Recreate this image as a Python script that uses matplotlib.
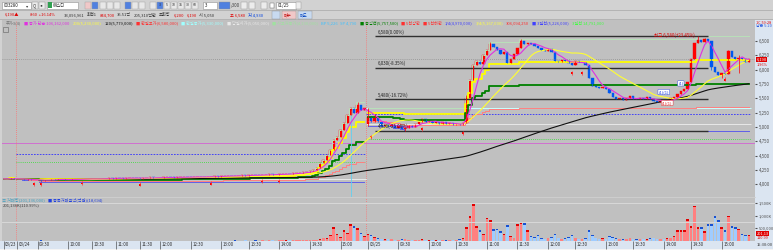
import matplotlib
matplotlib.use('Agg')
import matplotlib.pyplot as plt
from matplotlib.patches import Rectangle
import matplotlib.transforms as mtrans
import numpy as np
import pandas as pd

plt.rcParams['font.family'] = ['Noto Sans CJK KR', 'DejaVu Sans']

# --- data -------------------------------------------------------------
day_open = [4100, 4100, 5050]
day_len = [4, 103, 113]

close_d0 = [4095, 4090, 4105, 4100]
close_d1 = [
    4090, 4085, 4080, 4085, 4075, 4080, 4070, 4060, 4075, 4080,
    4085, 4080, 4090, 4085, 4080, 4075, 4085, 4090, 4095, 4090,
    4085, 4095, 4100, 4095, 4090, 4095,
    4100, 4105, 4100, 4110, 4105, 4100, 4110, 4115, 4110, 4105,
    4100, 4110, 4115, 4120, 4115, 4110, 4115, 4120, 4125, 4120,
    4115, 4120, 4125, 4130, 4125, 4120, 4130, 4135, 4130, 4125,
    4130, 4135, 4140, 4135, 4140, 4145, 4150, 4145, 4140, 4150,
    4155, 4150, 4160, 4165, 4160, 4155, 4160, 4170, 4175, 4170,
    4165, 4175, 4180, 4185, 4180, 4190, 4195, 4200, 4210, 4220,
    4232, 4250, 4284, 4371, 4424, 4511, 4598, 4773, 4825, 4947,
    5069, 5209, 5331, 5243, 5383, 5296, 5330,
]
close_d2 = [
    5180, 5080, 5150, 5080, 5020, 5060, 5010, 5040, 4990, 5020,
    4960, 4990, 5030, 5000, 5050, 5080, 5140, 5090, 5110, 5070,
    5090, 5060, 5080, 5050, 5070, 5040, 5060, 5030, 5070, 5500,
    5820, 6080, 6150, 6100, 6250, 6340, 6450, 6400, 6350, 6280,
    6310, 6120, 6180, 6280, 6380, 6500, 6450, 6470, 6440, 6420,
    6380, 6350, 6330, 6360, 6310, 6160, 6140, 6170, 6150, 6120,
    6090, 6150, 6130, 6140, 6080, 5850, 5720, 5700, 5680, 5700,
    5660, 5600, 5520, 5490, 5510, 5470, 5500, 5540, 5490, 5480,
    5510, 5490, 5520, 5480, 5450, 5430, 5460, 5420, 5470, 5500,
    5530, 5580, 5620, 5660, 5780, 6180, 6460, 6520, 6480, 6540,
    6500, 6050, 5960, 5900, 5950, 5930, 6320, 6230, 6180, 6210,
    6180, 6140, 6190,
]
wick_hi = {104: 5430, 107: 5330, 109: 5220, 136: 5550, 143: 6490,
           152: 6540, 204: 6580, 206: 6560, 213: 6350, 216: 6260}
wick_lo = {11: 4040, 107: 5020, 118: 4930, 208: 6000, 211: 5850, 216: 5950}

vol_d0 = [10, 6, 8, 12]
vol_d1 = [
    8, 12, 5, 10, 15, 6, 9, 20, 7, 11, 5, 8, 14, 6, 10, 9, 5, 12, 7, 8,
    6, 10, 13, 5, 9, 7, 11, 6, 8, 15, 5, 9, 7, 12, 6, 10, 8, 5, 14, 9,
    6, 11, 7, 8, 13, 5, 10, 9, 6, 12, 7, 8, 15, 6, 9, 11, 5, 10, 8, 14,
    12, 18, 9, 15, 20, 11, 16, 25, 13, 18, 22, 15, 28, 19, 24, 30, 17, 26, 35, 21,
    30, 25, 40, 28, 35, 45,
    30, 25, 40, 60, 120, 110, 250, 540, 270, 160, 420, 330, 650, 600, 500, 330, 200,
]
vol_d2 = [
    270, 230, 150, 100, 80, 60, 90, 70, 50, 40,
    60, 70, 40, 30, 50, 40, 60, 30, 20, 30,
    20, 40, 30, 20, 30, 40, 30, 60, 100, 540,
    975, 1460, 580, 420, 270, 920, 810, 460, 490, 385,
    270, 620, 190, 120, 650, 740, 690, 420, 190, 150,
    230, 110, 90, 130, 160, 270, 120, 80, 100, 150,
    230, 120, 90, 70, 110, 420, 240, 130, 90, 110,
    80, 180, 150, 100, 70, 60, 90, 120, 80, 60,
    70, 90, 60, 100, 120, 80, 70, 90, 110, 130,
    180, 420, 440, 420, 860, 600, 1390, 560, 550, 380,
    650, 650, 975, 810, 560, 420, 1000, 600, 560, 490,
    270, 240, 250,
]

# per-day reference levels (prev close, pivot dashed, pivot dotted)
prev_close_lv = [None, 4100, 5330]
pivot_blue = [None, 4527, 5226]
pivot_green = [None, 4387, 4790]
pink_level = 4720
last_price = 6190

fib_levels = [6580, 6030, 5480, 4930]
fib_labels = ['6,580(0.00%)', '6,030(-8.35%)', '5,480(-16.72%)', '4,930(-25.08%)']
fib_span = (109, 207)

sig_idx = [9, 11, 23, 40, 61, 76, 81, 108, 123, 135, 167, 170, 212]
sig_px = [4000, 4000, 4020, 3990, 4010, 4040, 4050, 4820, 4960, 4890, 5940, 5940, 5820]

tick_idx = [0, 4, 10, 19, 26, 33, 40, 46, 55, 64, 72, 81, 90, 99, 107,
            116, 125, 133, 142, 151, 160, 168, 177, 185, 194, 202, 211]
tick_lab = ['03/23', '03/24', '09:30', '10:00', '10:30', '11:00', '11:30', '12:00',
            '12:30', '13:00', '13:30', '14:00', '14:30', '15:00', '03/25',
            '09:30', '10:00', '10:30', '11:00', '11:30', '12:00', '12:30',
            '13:00', '13:30', '14:00', '14:30', '15:00']

price_ticks = [4000, 4250, 4500, 4750, 5000, 5250, 5500, 5750, 6000, 6250, 6500]
vol_ticks = [500, 1000, 1500]
vol_tick_lab = ['500,000', '1,000K', '1,500K']

quote_row = [(5, '6,190▲', '#e00000'), (30, '860  +16.14%', '#e00000'),
             (64, '33,096,961', '#303030'), (81, '회전1', '#303030'),
             (92, '844,700', '#e00000'), (104, '35.51억', '#303030'),
             (118, '205,310백만', '#303030'), (138, '조회량', '#303030'),
             (157, '6,200', '#e00000'), (178, '6,190', '#e00000'),
             (193, '시 5,050', '#303030'), (230, '고 6,580', '#e00000'),
             (247, '저 4,930', '#0040e0')]

legend = [(6, '주가3(4)', '#707070'), (23, '■ 종가 단순 106,162,000', '#e030e0'),
          (65, '200(5,230,000)', '#ffff40'), (90, '120(5,779,000)', '#101010'),
          (120, '■ 한일고가(6,580,000)', '#ff3030'), (159, '■ 한일종가(5,330,000)', '#a0ffff'),
          (193, '■ 당일시가(5,050,000)', '#e8e8e8'), (235, '■ 시고저종가(4,130,000)', '#a0e0a0'),
          (292, 'BP 5,226', '#40c0ff'), (312, 'SP 4,790', '#40c0ff'),
          (333, '■ 중심선(5,757,500)', '#008000'), (370, '■ 5선상한', '#ff3030'),
          (390, '■ 5선하한', '#ff3030'), (407, '1/4(4,970,000)', '#4040ff'),
          (430, '3/4(5,167,000)', '#ffff40'), (453, '306,094,250', '#ff3030'),
          (477, '■ 3일선(5,226,000)', '#4040ff'), (506, '3일선 14,791,000', '#40ff40')]

# --- build frame --------------------------------------------------------
closes = close_d0 + close_d1 + close_d2
vols = vol_d0 + vol_d1 + vol_d2
day = np.repeat([0, 1, 2], day_len)
df = pd.DataFrame({'close': closes, 'vol': vols, 'day': day})
df['open'] = df['close'].shift(1)
starts = np.cumsum([0] + day_len[:-1])
for d, s in enumerate(starts):
    df.loc[s, 'open'] = day_open[d]
df['high'] = df[['open', 'close']].max(axis=1)
df['low'] = df[['open', 'close']].min(axis=1)
for k, v in wick_hi.items():
    df.loc[k, 'high'] = v
for k, v in wick_lo.items():
    df.loc[k, 'low'] = v
df['up'] = df['close'] >= df['open']
df['ma5'] = df['close'].rolling(5, min_periods=1).mean()
df['ma20'] = df['close'].rolling(20, min_periods=1).mean()
df['ma_long'] = df['close'].rolling(112, min_periods=1).mean()
df['dh'] = df.groupby('day')['high'].cummax()
df['dl'] = df.groupby('day')['low'].cummin()
df['q50'] = (df['dh'] + df['dl']) / 2
df['q75'] = df['dl'] + 0.75 * (df['dh'] - df['dl'])
df['q25'] = df['dl'] + 0.25 * (df['dh'] - df['dl'])
idx = np.arange(len(df))

# --- figure -------------------------------------------------------------
W, H = 773, 250
fig = plt.figure(figsize=(W / 100, H / 100), dpi=100)
fig.patch.set_facecolor('#d2d2d2')
renderer = fig.canvas.get_renderer()


def box(x0, y0, x1, y1):
    return [x0 / W, 1 - y1 / H, (x1 - x0) / W, (y1 - y0) / H]


def ftext(x, y, s, **kw):
    kw.setdefault('fontsize', 3.2)
    kw.setdefault('va', 'center')
    return fig.text(x / W, 1 - y / H, s, **kw)


def flow(items, y, size, gap=2.5):
    # place texts at their own x, but never on top of the previous one
    end = 0
    for x, s, c in items:
        t = ftext(max(x, end + gap), y, s, color=c, fontsize=size)
        end = t.get_window_extent(renderer).x1


def frect(x0, y0, x1, y1, **kw):
    kw.setdefault('zorder', -1)
    fig.patches.append(Rectangle((x0 / W, 1 - y1 / H), (x1 - x0) / W, (y1 - y0) / H,
                                 transform=fig.transFigure, figure=fig, **kw))


# header rows
frect(0, 10, W, 10.8, facecolor='#b4b4b4', edgecolor='none')
frect(0, 19, W, 19.6, facecolor='#b4b4b4', edgecolor='none')
frect(2, 2, 31, 8.5, facecolor='white', edgecolor='#909090', lw=0.4)
ftext(4, 5.3, '003280', color='#202020')
ftext(26, 5.3, '▾', color='#404040')
frect(32, 2, 38, 8.5, facecolor='#ececec', edgecolor='#909090', lw=0.3)
ftext(33, 5.3, 'Q', color='#404040')
frect(39, 2, 45, 8.5, facecolor='#ececec', edgecolor='#909090', lw=0.3)
ftext(39.5, 5.3, '◂▸', color='#404040', fontsize=2.8)
frect(47, 2, 78, 8.5, facecolor='white', edgecolor='#909090', lw=0.4)
frect(47.5, 2.5, 52, 8, facecolor='#30a050', edgecolor='none')
ftext(53, 5.3, '에스디', color='#202020')
toolbar = [(85, '#f0c8c8'), (92, '#5080e0'), (100, '#e8e8e8'), (107, '#e8e8e8'),
           (114, '#e8e8e8'), (125, '#5080e0'), (132, '#e8e8e8'), (139, '#e8e8e8'),
           (150, '#e8e8e8'), (157, '#5080e0'), (164, '#e8e8e8'), (171, '#e8e8e8'),
           (178, '#e8e8e8'), (185, '#e8e8e8'), (192, '#e8e8e8')]
for x0, fc in toolbar:
    frect(x0, 2, x0 + 6, 8.5, facecolor=fc, edgecolor='#a0a0a0', lw=0.3)
for x0, s in [(158.8, '3'), (165.8, '5'), (171.8, '10'), (178.8, '15'), (185.8, '30'), (192.8, '60')]:
    ftext(x0, 5.3, s, color='#303030', fontsize=2.6)
frect(203, 2, 217, 8.5, facecolor='white', edgecolor='#909090', lw=0.4)
ftext(205, 5.3, '3', color='#202020')
frect(219, 2, 230, 8.5, facecolor='#5080e0', edgecolor='#909090', lw=0.3)
ftext(231, 5.3, '/300', color='#404040')
frect(241, 2, 247, 8.5, facecolor='#ececec', edgecolor='#909090', lw=0.3)
frect(249, 2, 255, 8.5, facecolor='#ececec', edgecolor='#909090', lw=0.3)
frect(261, 2, 267, 8.5, facecolor='#ececec', edgecolor='#909090', lw=0.3)
frect(270, 3, 274, 7.5, facecolor='white', edgecolor='#606060', lw=0.3)
frect(276, 2, 296, 8.5, facecolor='white', edgecolor='#909090', lw=0.4)
ftext(278, 5.3, '01/25', color='#202020')
frect(296, 2, 301, 8.5, facecolor='#ececec', edgecolor='#909090', lw=0.3)

flow(quote_row, 15, 3.0)
frect(272, 11.5, 280, 18.5, facecolor='#c8daf0', edgecolor='#909090', lw=0.3)
frect(282, 11.5, 296, 18.5, facecolor='#f0c8c8', edgecolor='#909090', lw=0.3)
ftext(284, 15, '매수', color='#c00000', fontsize=3.0)
frect(298, 11.5, 312, 18.5, facecolor='#c8daf0', edgecolor='#909090', lw=0.3)
ftext(300, 15, '매도', color='#0040c0', fontsize=3.0)

# right axis & time strip backgrounds
frect(755, 19.6, W, 241, facecolor='#dbe5f1', edgecolor='none')
frect(0, 241, W, 249, facecolor='#dbe5f1', edgecolor='none')
frect(0, 249, W, H, facecolor='#f4f4f4', edgecolor='none')

ax = fig.add_axes(box(2, 19.6, 755, 196.5))
axv = fig.add_axes(box(2, 196.5, 755, 241), sharex=ax)
for a in (ax, axv):
    a.set_facecolor('#c0c0c0')
    for s in a.spines.values():
        s.set_visible(False)
axv.spines['top'].set_visible(True)
axv.spines['top'].set_color('#d0d0d0')
axv.spines['top'].set_linewidth(0.6)

ax.set_xlim(-0.5, 220.8)
ax.set_ylim(3787, 6874)
axv.set_ylim(0, 1752)

# horizontal references
ax.axhline(last_price, color='#909090', lw=0.6, ls=(0, (1, 1.5)))
ax.axhline(pink_level, color='#d070d0', lw=0.7)
for d in (1, 2):
    s, e = starts[d] - 0.5, starts[d] + day_len[d] - 0.5
    ax.hlines(prev_close_lv[d], s, e, color='#c8ffff', lw=0.7)
    ax.hlines(day_open[d], s, e, color='#e8e8e8', lw=0.7)
    ax.hlines(pivot_blue[d], s, e, color='#3030ff', lw=0.6, ls=(0, (2, 1.5)))
    ax.hlines(pivot_green[d], s, e, color='#30e030', lw=0.6, ls=(0, (1, 1.5)))

# day step lines
for d in range(3):
    m = df['day'] == d
    xs = idx[m]
    ax.step(xs, df.loc[m, 'dh'], where='mid', color='#b8e0b8', lw=0.7)
    ax.step(xs, df.loc[m, 'dl'], where='mid', color='#6060e8', lw=0.7)
    ax.step(xs, df.loc[m, 'q25'], where='mid', color='#ff8080', lw=0.7)
    ax.step(xs, df.loc[m, 'q75'], where='mid', color='#ffff00', lw=1.3)
    ax.step(xs, df.loc[m, 'q50'], where='mid', color='#008000', lw=1.3)

# fibonacci levels
for lv, lab in zip(fib_levels, fib_labels):
    ax.hlines(lv, fib_span[0], fib_span[1], color='#303030', lw=1.0)
    ax.text(fib_span[0] + 1, lv + 30, lab, fontsize=3.2, color='#202020', va='bottom')
ax.text(203, 6600, '최고 6,580(+23.45%)', fontsize=3.2, color='#e00000', ha='right', va='center')

# day separators
for a in (ax, axv):
    for s in starts[1:]:
        a.axvline(s - 0.5, color='#ff7070', lw=0.6, ls=(0, (1, 1.5)))
ax.vlines(102, 3787, 5300, color='#60d0f0', lw=0.6)

# moving averages
ax.plot(idx, df['ma_long'], color='#101010', lw=0.8)
ax.plot(idx, df['ma20'], color='#ffff30', lw=0.8)
ax.plot(idx, df['ma5'], color='#e030e0', lw=0.8)

# candles
up_c, dn_c = '#ff0000', '#0058f0'
cols = np.where(df['up'], up_c, dn_c)
ax.vlines(idx, df['low'], df['high'], color=cols, lw=0.5)
ax.bar(idx, df['close'] - df['open'], bottom=df['open'], width=0.7,
       color=cols, edgecolor=cols, lw=0.3)

# signal markers
ax.vlines(sig_idx, np.array(sig_px) - 25, np.array(sig_px) + 45, color='#ff3030', lw=0.5)
ax.scatter(sig_idx, sig_px, s=2.5, marker='s', color='#ff0000', lw=0)

# buy/sell tags
for i, p, t, c in [(194, 5610, '(1)(1)', '#2040e0'), (195, 5420, '(1)(1)', '#e02020'),
                   (199, 5760, '(1)', '#2040e0')]:
    ax.text(i, p, t, fontsize=3.0, color=c, ha='center', va='center',
            bbox=dict(boxstyle='round,pad=0.15', fc='white', ec=c, lw=0.3))

# legend row of the price panel
flow(legend, 23.3, 3.0, gap=3)
frect(3, 27, 8, 32, facecolor='none', edgecolor='#606060', lw=0.4, zorder=3)
ftext(756, 22.5, '1C 59:28', color='#e00000', fontsize=2.8)
ftext(756, 26.3, '남은 5:20', color='#3060e0', fontsize=2.8)

# price axis labels
ax.yaxis.tick_right()
ax.set_yticks(price_ticks)
ax.set_yticklabels([f'{v:,}' for v in price_ticks])
ax.tick_params(axis='y', labelsize=3.2, colors='#505050', length=1.5, pad=1)
ax.tick_params(axis='x', bottom=False, labelbottom=False)
ftext(756.5, 59.8, '6,190', color='white', fontsize=3.0,
      bbox=dict(boxstyle='square,pad=0.1', fc='#e00000', ec='none'))
ftext(757, 64.6, '1.96%', color='#e00000', fontsize=2.8)

# volume panel
vcols = np.where(df['up'], '#ff8080', '#a0ccff')
ccols = np.where(df['up'], '#e00000', '#1850d0')
v = df['vol'].to_numpy()
cap = np.minimum(v * 0.15, 70)
axv.bar(idx, v, width=0.75, color=vcols)
axv.bar(idx, cap, bottom=v - cap, width=0.75, color=ccols)
axv.axhline(1500, color='#d8d8d8', lw=0.7)
axv.axhline(750, color='#d8d8d8', lw=0.7)
axv.yaxis.tick_right()
axv.set_yticks(vol_ticks)
axv.set_yticklabels(vol_tick_lab)
axv.tick_params(axis='y', labelsize=2.9, colors='#505050', length=1.5, pad=1)
flow([(2, '≡ 거래량(201,136,000)', '#40a0c0'),
      (45, '■ 종목거래금액(억원)(18,694)', '#2040e0')], 200.3, 3.0)
ftext(3, 204.8, '201,136K(110.99%)', color='#404040', fontsize=3.0)
ftext(756.5, 233.5, '201,13', color='white', fontsize=2.8,
      bbox=dict(boxstyle='square,pad=0.1', fc='#e00000', ec='none'))
ftext(757, 237.9, '110.99', color='#e00000', fontsize=2.8)

# time axis
axv.set_xticks(tick_idx)
axv.set_xticklabels(tick_lab, ha='left')
axv.tick_params(axis='x', labelsize=3.2, colors='#303030', length=5.6, width=0.4,
                direction='out', pad=-5.0, bottom=True)
shift = mtrans.ScaledTranslation(1.5 / 100, 0, fig.dpi_scale_trans)
for lab in axv.get_xticklabels():
    lab.set_transform(lab.get_transform() + shift)
ftext(757, 245, '15:30:00', color='#303030', fontsize=2.9)

fig.savefig('out.png', dpi=100, facecolor=fig.get_facecolor())
